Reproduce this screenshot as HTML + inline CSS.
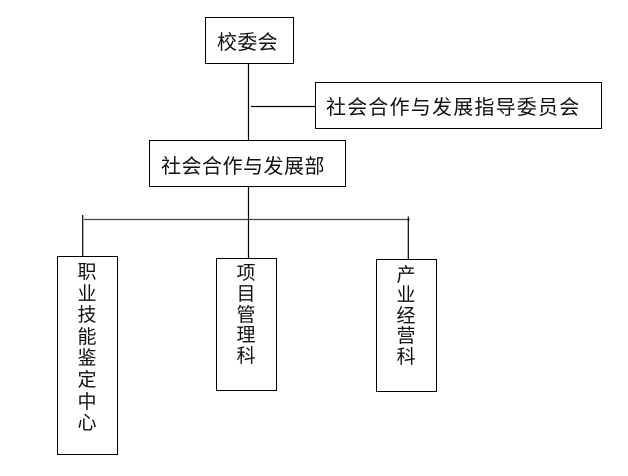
<!DOCTYPE html>
<html><head><meta charset="utf-8"><style>
html,body{margin:0;padding:0;background:#fff;}
body{width:628px;height:476px;position:relative;overflow:hidden;font-family:"Liberation Sans","Noto Sans CJK SC",sans-serif;color:#111;}
.b{position:absolute;border:1.3px solid #000;box-sizing:border-box;background:#fff;}
.t{position:absolute;font-size:20px;line-height:20px;white-space:nowrap;}
.v{position:absolute;font-size:19px;text-align:center;width:22px;}
svg{position:absolute;left:0;top:0;}
</style></head><body>
<svg width="628" height="476" viewBox="0 0 628 476">
<g stroke="#000" stroke-width="1.2" fill="none">
<line x1="248.5" y1="64" x2="248.5" y2="140"/>
<line x1="251" y1="106.5" x2="316" y2="106.5"/>
<line x1="248.5" y1="186" x2="248.5" y2="258"/>
<line x1="84" y1="219.5" x2="410" y2="219.5" stroke="#444"/>
<line x1="82.7" y1="215" x2="82.7" y2="257"/>
<line x1="408.3" y1="216.5" x2="408.3" y2="259"/>
</g>
</svg>
<div class="b" style="left:205px;top:17px;width:89px;height:47px;"></div>
<div class="b" style="left:315px;top:82px;width:287px;height:47px;"></div>
<div class="b" style="left:149px;top:140px;width:197px;height:47px;"></div>
<div class="b" style="left:57px;top:256px;width:61px;height:199px;"></div>
<div class="b" style="left:216px;top:258px;width:61px;height:133px;"></div>
<div class="b" style="left:376px;top:259px;width:61px;height:133px;"></div>

<div class="t" style="left:217px;top:33px;letter-spacing:0.3px;">校委会</div>
<div class="t" style="left:326px;top:98px;letter-spacing:1.2px;">社会合作与发展指导委员会</div>
<div class="t" style="left:161px;top:157px;letter-spacing:0.5px;">社会合作与发展部</div>

<div class="v" style="left:76px;top:262px;line-height:21.6px;">职<br>业<br>技<br>能<br>鉴<br>定<br>中<br>心</div>
<div class="v" style="left:235px;top:264px;line-height:20.8px;">项<br>目<br>管<br>理<br>科</div>
<div class="v" style="left:395px;top:265.5px;line-height:20.6px;">产<br>业<br>经<br>营<br>科</div>
</body></html>
